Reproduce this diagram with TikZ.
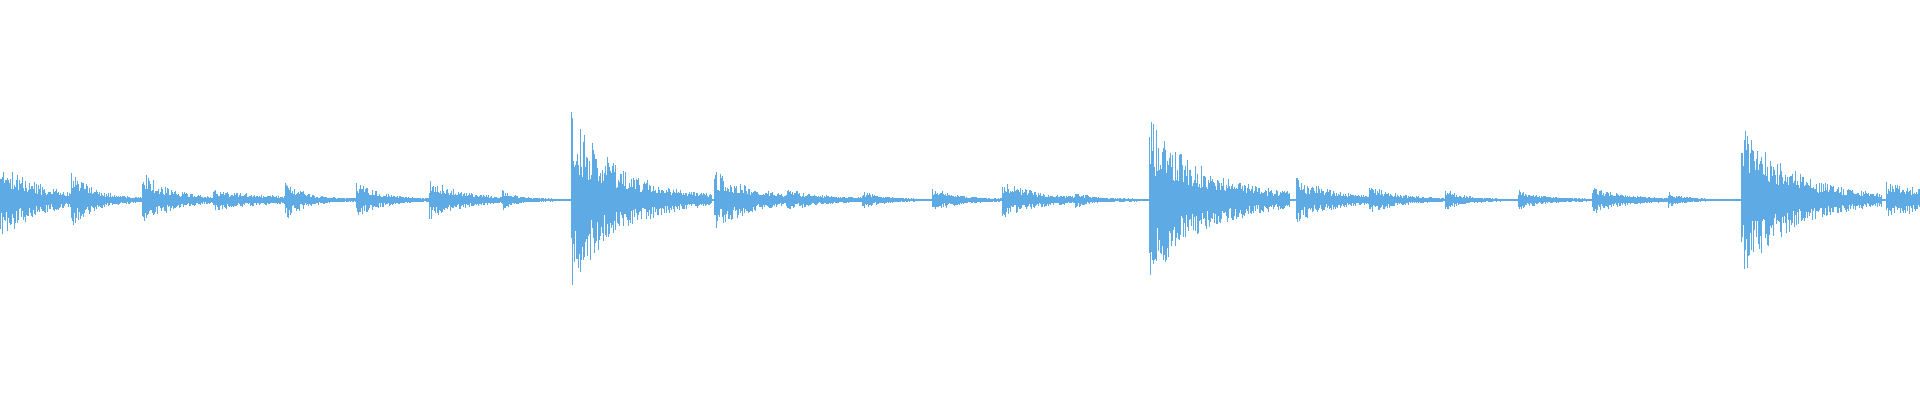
\documentclass[tikz,border=0pt]{standalone}
\definecolor{wave}{RGB}{94,170,228}
\begin{document}
\begin{tikzpicture}[x=1pt,y=1pt,wavestroke/.style={draw=wave,line width=0.75pt}]
\useasboundingbox (0,0) rectangle (1920,400);
\clip (0,0) rectangle (1920,400);
\pgfmathsetseed{4242}
\draw[wavestroke,line width=1.2pt] (0,200) -- (1920,200);
\foreach \o/\a/\t in {0/40/40,71/27/25,142/27/30,213/10/60,285/20/20,356/18/25,429/20/35,502/10/15,571/87/50,714/30/40,786/10/40,862/8/20,932/12/25,1002/18/40,1075/8/15,1149/80/60,1296/22/40,1369/14/30,1445/10/20,1518/9/25,1592/14/30,1668/7/15,1741/75/55,1886/17/100}{
  \pgfmathtruncatemacro\len{min(4*\t,140)}
  \foreach \i in {0,...,\len}{
    \pgfmathsetmacro\hu{\a*exp(-\i/\t)*(0.3+0.7*rnd)+1}
    \pgfmathsetmacro\hd{\a*exp(-\i/\t)*(0.3+0.7*rnd)+1}
    \draw[wavestroke] (\o+\i,200+\hu) -- (\o+\i,200-\hd);
  }
}
\end{tikzpicture}
\end{document}
